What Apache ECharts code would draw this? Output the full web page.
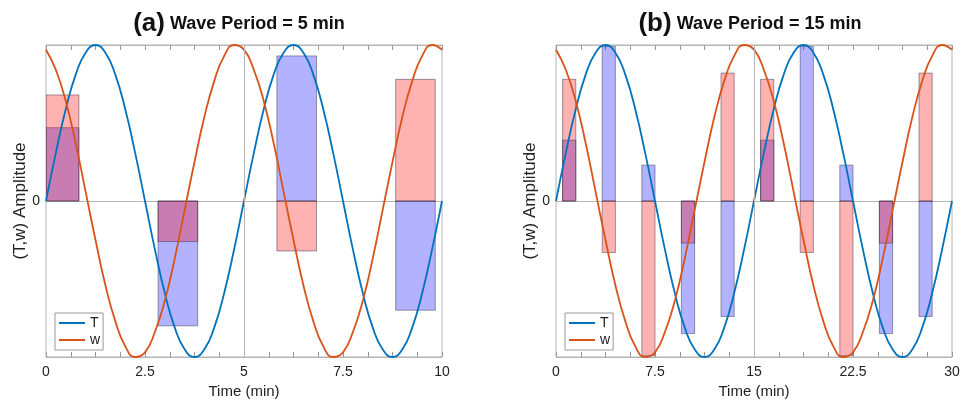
<!DOCTYPE html>
<html>
<head>
<meta charset="UTF-8">
<script src="https://cdn.jsdelivr.net/npm/echarts@6/dist/echarts.min.js"></script>
<style>
    html, body { margin: 0; padding: 0; background: #fff; }
    #chart { width: 962px; height: 400px; }
</style>
</head>
<body>
<div id="chart"></div>
<script>
    // sample times of the curves (min)
    var timesA = [0, 0.25, 0.5, 0.75, 1, 1.25, 1.5, 1.75, 2, 2.25, 2.5, 2.75, 3, 3.25, 3.5, 3.75, 4, 4.25, 4.5, 4.75, 5,
        5.25, 5.5, 5.75, 6, 6.25, 6.5, 6.75, 7, 7.25, 7.5, 7.75, 8, 8.25, 8.5, 8.75, 9, 9.25, 9.5, 9.75, 10];
    var timesB = [0, 0.75, 1.5, 2.25, 3, 3.75, 4.5, 5.25, 6, 6.75, 7.5, 8.25, 9, 9.75, 10.5, 11.25, 12, 12.75, 13.5, 14.25, 15,
        15.75, 16.5, 17.25, 18, 18.75, 19.5, 20.25, 21, 21.75, 22.5, 23.25, 24, 24.75, 25.5, 26.25, 27, 27.75, 28.5, 29.25, 30];
    // curve amplitudes at those times (same shape in both panels)
    var tValues = [0, 0.31, 0.59, 0.81, 0.95, 1, 0.95, 0.81, 0.59, 0.31, 0, -0.31, -0.59, -0.81, -0.95, -1, -0.95, -0.81, -0.59, -0.31, 0,
        0.31, 0.59, 0.81, 0.95, 1, 0.95, 0.81, 0.59, 0.31, 0, -0.31, -0.59, -0.81, -0.95, -1, -0.95, -0.81, -0.59, -0.31, 0];
    var wValues = [0.97, 0.84, 0.64, 0.37, 0.06, -0.25, -0.54, -0.77, -0.93, -1, -0.97, -0.84, -0.64, -0.37, -0.06, 0.25, 0.54, 0.77, 0.93, 1, 0.97,
        0.84, 0.64, 0.37, 0.06, -0.25, -0.54, -0.77, -0.93, -1, -0.97, -0.84, -0.64, -0.37, -0.06, 0.25, 0.54, 0.77, 0.93, 1, 0.97];

    // sampled boxes, panel (a)
    var barStartA = [0, 2.83, 5.83, 8.83];
    var barEndA = [0.83, 3.83, 6.83, 9.83];
    var barTA = [0.47, -0.80, 0.93, -0.70];
    var barWA = [0.68, -0.26, -0.32, 0.78];
    // sampled boxes, panel (b)
    var barStartB = [0.5, 3.5, 6.5, 9.5, 12.5, 15.5, 18.5, 21.5, 24.5, 27.5];
    var barEndB = [1.5, 4.5, 7.5, 10.5, 13.5, 16.5, 19.5, 22.5, 25.5, 28.5];
    var barTB = [0.39, 0.99, 0.23, -0.85, -0.74, 0.39, 0.99, 0.23, -0.85, -0.74];
    var barWB = [0.78, -0.33, -0.99, -0.27, 0.82, 0.78, -0.33, -0.99, -0.27, 0.82];

    var font = '"Liberation Sans", Arial, sans-serif';
    var gray = '#b4b4b4';

    function zip(xs, ys) {
        return xs.map(function (x, i) { return [x, ys[i]]; });
    }
    function boxes(starts, ends, vals) {
        return starts.map(function (s, i) { return [s, ends[i], vals[i]]; });
    }
    function renderBox(params, api) {
        var p0 = api.coord([api.value(0), 0]);
        var p1 = api.coord([api.value(1), api.value(2)]);
        return {
            type: 'rect',
            shape: {
                x: Math.min(p0[0], p1[0]),
                y: Math.min(p0[1], p1[1]),
                width: Math.abs(p1[0] - p0[0]),
                height: Math.abs(p1[1] - p0[1])
            },
            style: { fill: api.visual('color'), stroke: 'rgba(40,40,60,0.45)', lineWidth: 1 }
        };
    }

    function xAxes(grid, max, step, top) {
        return {
            gridIndex: grid, type: 'value', min: 0, max: max, interval: step,
            position: top ? 'top' : 'bottom',
            axisLine: { show: false, onZero: false },
            axisTick: { show: true, inside: true, length: 5, lineStyle: { color: '#999' } },
            minorTick: { show: true, splitNumber: 4, length: 5, lineStyle: { color: '#999' } },
            splitLine: { show: false },
            axisLabel: { show: !top, fontSize: 14, color: '#222', margin: 8, fontFamily: font },
            name: top ? '' : 'Time (min)',
            nameLocation: 'middle', nameGap: 26,
            nameTextStyle: { fontSize: 15, color: '#222', fontFamily: font }
        };
    }
    function yAxis(grid) {
        return {
            gridIndex: grid, type: 'value', min: -1, max: 1, interval: 1,
            axisLine: { show: false, onZero: false }, axisTick: { show: false },
            axisLabel: {
                fontSize: 14, color: '#222', margin: 6, fontFamily: font,
                formatter: function (v) { return v === 0 ? '0' : ''; }
            },
            splitLine: { show: true, lineStyle: { color: gray, width: 1 } },
            name: '(T,w) Amplitude', nameLocation: 'middle', nameGap: 13,
            nameTextStyle: { fontSize: 17, color: '#222', fontFamily: font }
        };
    }
    function legend(left) {
        return {
            data: ['T', 'w'], orient: 'vertical', left: left, top: 313,
            icon: 'rect', itemWidth: 26, itemHeight: 2, itemGap: 3,
            padding: [3, 3, 3, 4], borderColor: '#999', borderWidth: 1, backgroundColor: '#fff',
            textStyle: { fontSize: 14, lineHeight: 14, color: '#222', fontFamily: font }
        };
    }
    function title(left, tag, text) {
        return {
            text: '{p|' + tag + '} {t|' + text + '}', left: left, top: 6, textAlign: 'center',
            textStyle: {
                rich: {
                    p: { fontSize: 26, fontWeight: 'bold', color: '#111', fontFamily: font },
                    t: { fontSize: 18, fontWeight: 'bold', color: '#111', fontFamily: font }
                }
            }
        };
    }
    function panel(i, times, mid, bStart, bEnd, bT, bW) {
        return [{
            name: 'T', type: 'line', xAxisIndex: 2 * i, yAxisIndex: i,
            data: zip(times, tValues), smooth: true, showSymbol: false,
            lineStyle: { color: '#0072BD', width: 1.8 }, itemStyle: { color: '#0072BD' },
            markLine: {
                silent: true, symbol: ['none', 'none'], label: { show: false },
                lineStyle: { color: gray, type: 'solid', width: 1 },
                data: [{ xAxis: mid }]
            }
        }, {
            name: 'w', type: 'line', xAxisIndex: 2 * i, yAxisIndex: i,
            data: zip(times, wValues), smooth: true, showSymbol: false,
            lineStyle: { color: '#D95319', width: 1.8 }, itemStyle: { color: '#D95319' }
        }, {
            type: 'custom', xAxisIndex: 2 * i, yAxisIndex: i, clip: true,
            renderItem: renderBox, encode: { x: [0, 1], y: 2 },
            itemStyle: { color: 'rgba(0,0,255,0.3)' },
            data: boxes(bStart, bEnd, bT)
        }, {
            type: 'custom', xAxisIndex: 2 * i, yAxisIndex: i, clip: true,
            renderItem: renderBox, encode: { x: [0, 1], y: 2 },
            itemStyle: { color: 'rgba(255,0,0,0.3)' },
            data: boxes(bStart, bEnd, bW)
        }];
    }

    var chart = echarts.init(document.getElementById('chart'), null, { renderer: 'canvas' });
    var option = {
        backgroundColor: '#fff',
        animation: false,
        textStyle: { fontFamily: font },
        title: [title(234, '(a)', 'Wave Period = 5 min'), title(745, '(b)', 'Wave Period = 15 min')],
        legend: [legend(55), legend(565)],
        grid: [
            { left: 46, top: 45, width: 396, height: 312, show: true, borderColor: gray, borderWidth: 1, outerBoundsMode: 'none' },
            { left: 556, top: 45, width: 396, height: 312, show: true, borderColor: gray, borderWidth: 1, outerBoundsMode: 'none' }
        ],
        xAxis: [xAxes(0, 10, 2.5, false), xAxes(0, 10, 2.5, true), xAxes(1, 30, 7.5, false), xAxes(1, 30, 7.5, true)],
        yAxis: [yAxis(0), yAxis(1)],
        series: panel(0, timesA, 5, barStartA, barEndA, barTA, barWA)
            .concat(panel(1, timesB, 15, barStartB, barEndB, barTB, barWB))
    };
    chart.setOption(option);
    window.addEventListener('resize', chart.resize);
</script>
</body>
</html>
